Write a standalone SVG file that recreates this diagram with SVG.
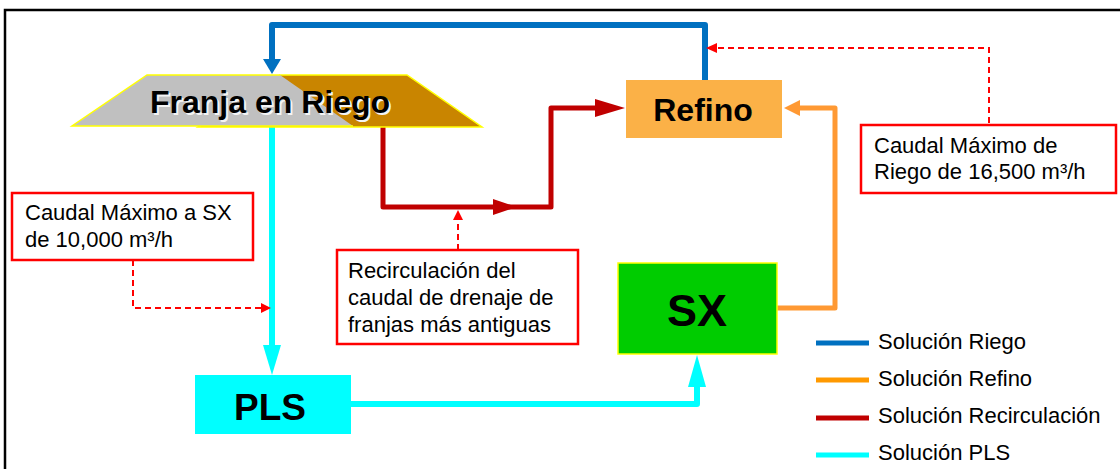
<svg xmlns="http://www.w3.org/2000/svg" width="1120" height="469" viewBox="0 0 1120 469">
<style>
.lbl{font-family:"Liberation Sans",Arial,sans-serif;font-size:22px;fill:#000}
.big{font-family:"Liberation Sans",Arial,sans-serif;font-weight:bold;fill:#000;text-anchor:middle}
.note{fill:#fff;stroke:#ff0000;stroke-width:2.5}
.dash{fill:none;stroke:#ff0000;stroke-width:2;stroke-dasharray:6 4}
.flow{fill:none;stroke-linejoin:round;stroke-linecap:butt}
</style>
<rect width="1120" height="469" fill="#fff"/>
<rect x="5" y="10" width="1130" height="470" fill="none" stroke="#000" stroke-width="2.5"/>

<g id="connectors">
  <!-- Riego (blue) -->
  <polyline class="flow" points="705,80 705,25 272,25 272,60" stroke="#0070C0" stroke-width="6"/>
  <polygon points="263,59 281,59 272,74" fill="#0070C0"/>
  <!-- Recirculation (red) -->
  <polyline class="flow" points="383,127 383,207 551,207 551,108 597,108" stroke="#C00000" stroke-width="5"/>
  <polygon points="493,199 517,207 493,215" fill="#C00000"/>
  <polygon points="595,99 625,108 595,117" fill="#C00000"/>
  <!-- Refino (orange) -->
  <polyline class="flow" points="777,308 835,308 835,108 798,108" stroke="#FF9933" stroke-width="5"/>
  <polygon points="800,100 784,108 800,116" fill="#FF9933"/>
  <!-- PLS (cyan) -->
  <line x1="272" y1="126" x2="272" y2="346" stroke="#00FFFF" stroke-width="6"/>
  <polygon points="263,345 281,345 272,375" fill="#00FFFF"/>
  <polyline class="flow" points="351,404 697,404 697,385" stroke="#00FFFF" stroke-width="6"/>
  <polygon points="688,387 706,387 697,355" fill="#00FFFF"/>
  <!-- dashed callouts -->
  <polyline class="dash" points="989,123 989,48 716,48"/>
  <polygon points="717,43 706,48 717,53" fill="#ff0000"/>
  <polyline class="dash" points="133,260 133,308 262,308"/>
  <polygon points="261,303 271,308 261,313" fill="#ff0000"/>
  <line class="dash" x1="458" y1="250" x2="458" y2="219"/>
  <polygon points="453,220 458,210 463,220" fill="#ff0000"/>
</g>

<g id="franja">
  <polygon points="280,75 407,75 482,127 198,127" fill="#C98500" stroke="#FFFF00" stroke-width="1.5"/>
  <polygon points="147,75 280,75 353,126 72,126" fill="#C0C0C0"/>
  <polyline points="280,75 147,75 72,126 353,126" fill="none" stroke="#FFFF00" stroke-width="1.5"/>
  <text class="big" x="272" y="115" font-size="32" fill="#fff" style="fill:#f4f4f4">Franja en Riego</text>
  <text class="big" x="270" y="113" font-size="32">Franja en Riego</text>
</g>

<g id="refino">
  <rect x="626" y="80" width="156" height="58" fill="#FBB147"/>
  <text class="big" x="703" y="121" font-size="32">Refino</text>
</g>

<g id="sx">
  <rect x="618" y="263" width="159" height="91" fill="#00CC00" stroke="#FFFF00" stroke-width="1.5"/>
  <text class="big" x="697" y="326" font-size="45">SX</text>
</g>

<g id="pls">
  <rect x="195" y="375" width="156" height="59" fill="#00FFFF"/>
  <text class="big" x="270" y="420" font-size="37">PLS</text>
</g>

<g id="note-sx">
  <rect class="note" x="12" y="193" width="241" height="67"/>
  <text class="lbl" x="25" y="220">Caudal Máximo a SX</text>
  <text class="lbl" x="25" y="247">de 10,000 m³/h</text>
</g>

<g id="note-recirc">
  <rect class="note" x="337" y="250" width="241" height="94"/>
  <text class="lbl" x="348" y="278">Recirculación del</text>
  <text class="lbl" x="348" y="305">caudal de drenaje de</text>
  <text class="lbl" x="348" y="332">franjas más antiguas</text>
</g>

<g id="note-riego">
  <rect class="note" x="861" y="125" width="255" height="68"/>
  <text class="lbl" x="874" y="153">Caudal Máximo de</text>
  <text class="lbl" x="874" y="179">Riego de 16,500 m³/h</text>
</g>

<g id="legend">
  <line x1="816" y1="343" x2="869" y2="343" stroke="#0070C0" stroke-width="5"/>
  <text class="lbl" x="878" y="349">Solución Riego</text>
  <line x1="816" y1="380" x2="869" y2="380" stroke="#FF9900" stroke-width="5"/>
  <text class="lbl" x="878" y="386">Solución Refino</text>
  <line x1="816" y1="418" x2="869" y2="418" stroke="#C00000" stroke-width="5"/>
  <text class="lbl" x="878" y="423">Solución Recirculación</text>
  <line x1="816" y1="455" x2="869" y2="455" stroke="#00FFFF" stroke-width="5"/>
  <text class="lbl" x="878" y="460">Solución PLS</text>
</g>
</svg>
